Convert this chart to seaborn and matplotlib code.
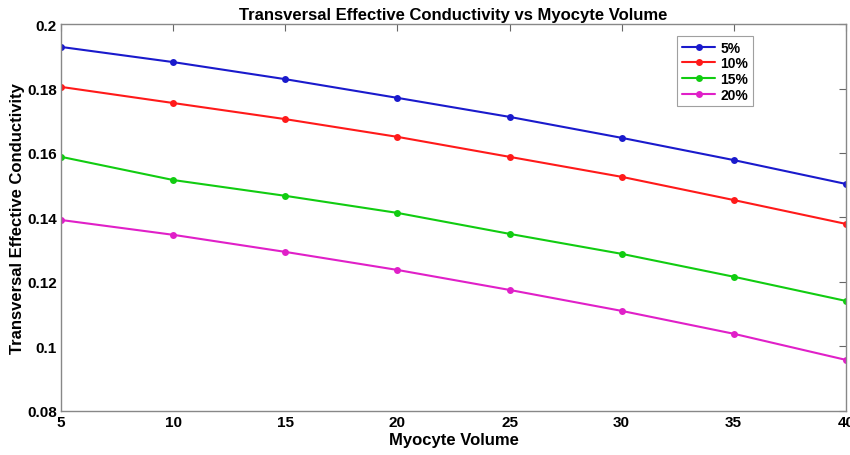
import pandas as pd
import matplotlib
matplotlib.use("Agg")
import matplotlib.pyplot as plt
import seaborn as sns

volume = [5, 10, 15, 20, 25, 30, 35, 40]
cond_5 = [0.1929, 0.1882, 0.1829, 0.1771, 0.1712, 0.1647, 0.1578, 0.1504]
cond_10 = [0.1805, 0.1755, 0.1705, 0.1650, 0.1588, 0.1526, 0.1454, 0.1380]
cond_15 = [0.1588, 0.1516, 0.1467, 0.1414, 0.1349, 0.1287, 0.1216, 0.1141]
cond_20 = [0.1392, 0.1346, 0.1293, 0.1237, 0.1175, 0.1110, 0.1039, 0.0958]
labels = ["5%", "10%", "15%", "20%"]
colors = ["#1a1acc", "#ff1a1a", "#11cc11", "#e020c8"]


def main():
    rows = []
    for lab, vals in zip(labels, [cond_5, cond_10, cond_15, cond_20]):
        for v, c in zip(volume, vals):
            rows.append({"Volume": v, "Conductivity": c, "Fraction": lab})
    df = pd.DataFrame(rows)

    sns.set_style("white")
    plt.rcParams["font.family"] = ["Liberation Sans", "DejaVu Sans"]
    plt.rcParams["font.weight"] = "bold"
    plt.rcParams["text.color"] = "black"
    plt.rcParams["axes.labelcolor"] = "black"
    plt.rcParams["xtick.color"] = "black"
    plt.rcParams["ytick.color"] = "black"

    fig = plt.figure(figsize=(8.5, 4.56), dpi=100)
    ax = fig.add_axes([0.072, 0.097, 0.923, 0.848])

    sns.lineplot(data=df, x="Volume", y="Conductivity", hue="Fraction",
                 hue_order=labels, palette=colors, marker="o", markersize=5,
                 markeredgewidth=0, linewidth=1.5, ax=ax)

    ax.set_xlim(5, 40)
    ax.set_ylim(0.08, 0.2)
    ax.set_xticks(volume)
    ax.set_yticks([0.08, 0.1, 0.12, 0.14, 0.16, 0.18, 0.2])
    ax.set_yticklabels(["0.08", "0.1", "0.12", "0.14", "0.16", "0.18", "0.2"])
    ax.tick_params(direction="in", length=5, color="#666666", labelcolor="black",
                   labelsize=11, top=True, right=True, pad=3)
    for lbl in ax.get_xticklabels() + ax.get_yticklabels():
        lbl.set_fontweight("bold")
    for sp in ax.spines.values():
        sp.set_color("#888888")
        sp.set_linewidth(1.0)

    ax.set_xlabel("Myocyte Volume", fontsize=12, fontweight="bold", labelpad=2)
    ax.set_ylabel("Transversal Effective Conductivity", fontsize=12,
                  fontweight="bold", labelpad=2)
    ax.set_title("Transversal Effective Conductivity vs Myocyte Volume",
                 fontsize=12, fontweight="bold", pad=4)

    leg = ax.legend(loc="upper left", bbox_to_anchor=(0.785, 0.97),
                    borderaxespad=0, frameon=True, fancybox=False,
                    fontsize=10, handlelength=2.4, borderpad=0.35,
                    labelspacing=0.12, handletextpad=0.35)
    leg.get_frame().set_edgecolor("#888888")
    leg.get_frame().set_linewidth(0.8)
    for t in leg.get_texts():
        t.set_fontweight("bold")

    plt.savefig("out.png", dpi=100)
    plt.close()


if __name__ == "__main__":
    main()
